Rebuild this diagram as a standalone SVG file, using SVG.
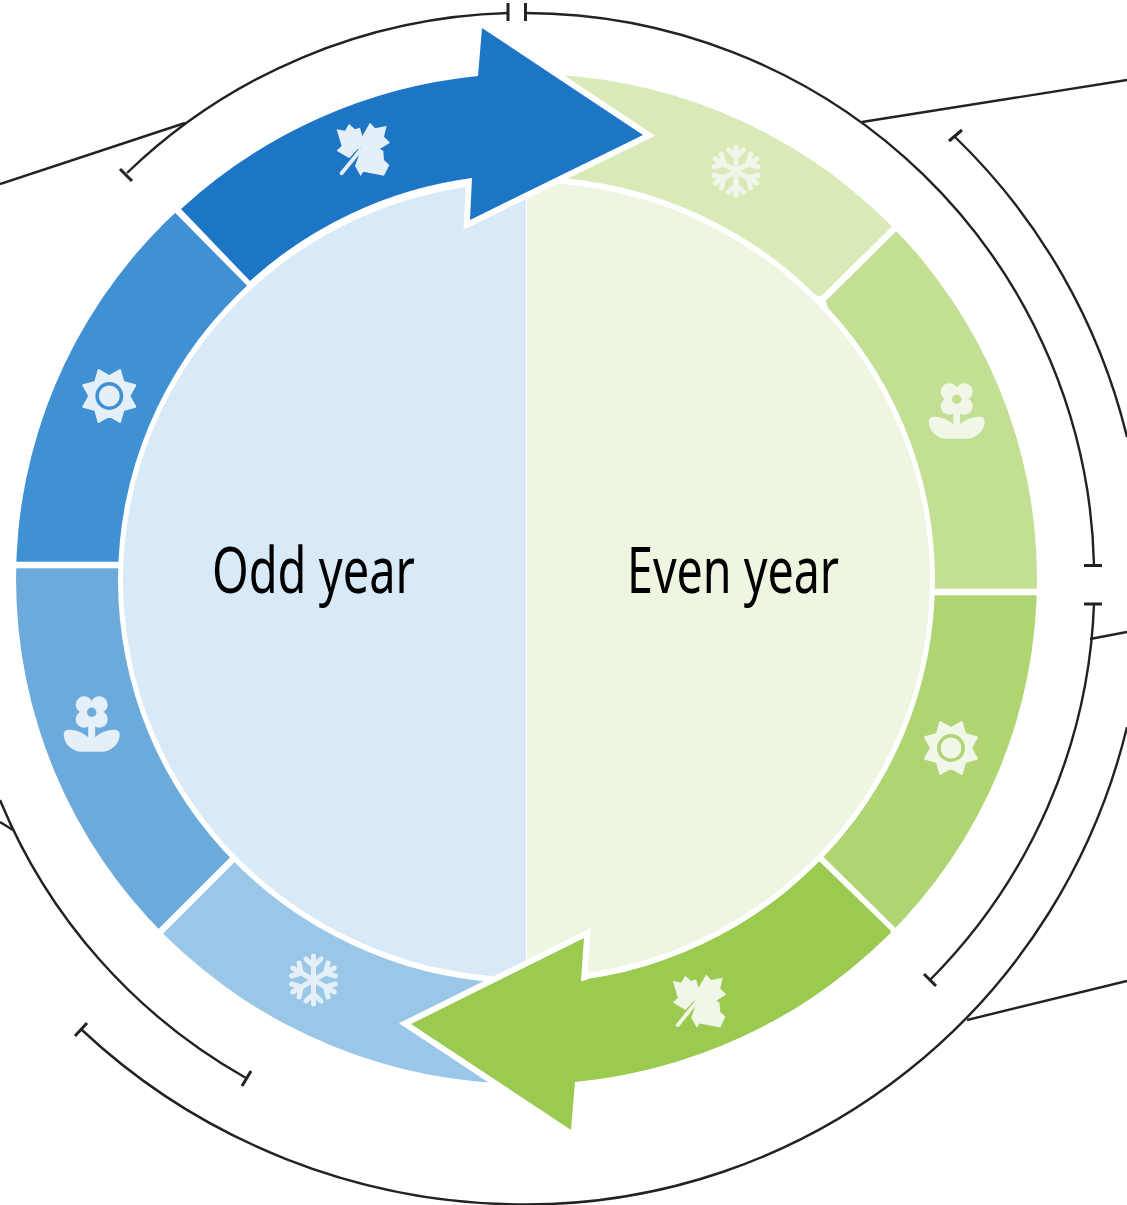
<svg xmlns="http://www.w3.org/2000/svg" xmlns:xlink="http://www.w3.org/1999/xlink" width="1127" height="1205" viewBox="0 0 1127 1205">
<style>
.seg{clip-path:url(#ringClip)}
.ln{fill:none;stroke:#222;stroke-width:2.4}
.tk{fill:none;stroke:#222;stroke-width:3}
.gap{stroke:#fff;stroke-width:6.5;fill:none}
.halo{fill:none;stroke:#fff;stroke-width:12;stroke-miterlimit:10}
.lab{font-family:"Noto Sans","Open Sans",sans-serif;font-size:63px;fill:#000}
.ib{fill:#e4eff8;color:#e4eff8}
.ig{fill:#f1f7e8;color:#f1f7e8}
</style>
<defs>
<clipPath id="ringClip"><path clip-rule="evenodd" d="M16,579a510.5,505 0 1 0 1021,0a510.5,505 0 1 0 -1021,0ZM118,580a408.500,403.500 0 1 0 817,0a408.500,403.500 0 1 0 -817,0Z"/></clipPath>
<g id="sun"><path stroke="currentColor" stroke-width="2" stroke-linejoin="round" d="M0,-20L10.700,-26L14.100,-14.100L26,-10.700L20,0L26,10.700L14.100,14.100L10.700,26L0,20L-10.700,26L-14.100,14.100L-26,10.700L-20,0L-26,-10.700L-14.100,-14.100L-10.700,-26Z"/></g>
<g id="flower"><circle cx="-7.500" cy="-7.500" r="8.500"/><circle cx="7.500" cy="-7.500" r="8.500"/><circle cx="-7.500" cy="7" r="8.500"/><circle cx="7.500" cy="7" r="8.500"/><rect x="-5" y="-5" width="10" height="10"/><rect x="-3.500" y="10" width="7" height="18"/><path d="M-3.500,25C-8,20 -18,17 -23,17.500C-26,17.500 -28,19.500 -28,22C-28,32 -19,39.500 -10,39.500L10,39.500C19,39.500 28,32 28,22C28,19.500 26,17.500 23,17.500C18,17 8,20 3.500,25Z"/></g>
<g id="flake" fill="none" stroke="currentColor" stroke-width="5" stroke-linecap="round" stroke-linejoin="round"><g id="arm"><path d="M0,0V-24M-7.500,-21L0,-14L7.500,-21"/></g><use xlink:href="#arm" href="#arm" transform="rotate(60)"/><use xlink:href="#arm" href="#arm" transform="rotate(120)"/><use xlink:href="#arm" href="#arm" transform="rotate(180)"/><use xlink:href="#arm" href="#arm" transform="rotate(240)"/><use xlink:href="#arm" href="#arm" transform="rotate(300)"/></g>
<g id="leaf"><path d="M-26.700,-20.700L-18.300,-19.300L-14.300,-26L-8.300,-20.700L-3.300,-22.300L-1,-14L6.700,-27.300L11.700,-21.700L23.300,-24L20.700,-13.300L26.700,-7.300L16.700,-1L20,.7L20.700,10L26,15L20.700,25.700L0,21.700L-2.700,26L-8.300,16L-5,7L-2.500,-1.500L-6,-.5L-14,8.300L-26.700,.7L-21.700,-4Z"/><path fill="none" stroke="currentColor" stroke-width="3.800" stroke-linecap="round" d="M-21.700,23.300L-3.300,.7"/></g>
</defs>

<g id="outer-brackets" class="connectors">
<path class="ln" d="M508,13A570,565 0 0 0 127,173"/>
<path class="ln" d="M525,13A570,565 0 0 1 1094,565"/>
<path class="ln" d="M1094,604A570,565 0 0 1 930,980"/>
<path class="ln" d="M246,1078A570,565 0 0 1 0,800"/>
<path class="ln" d="M82,1030A641,626.500 0 0 0 526,1204.500A619,626.500 0 0 0 1127,727"/>
<path class="ln" d="M955,137A615,620 0 0 1 1127,437"/>
<path class="ln" d="M185,123L0,184"/>
<path class="ln" d="M862,122L1127,80"/>
<path class="ln" d="M1090,639L1127,632"/>
<path class="ln" d="M967,1020L1127,981"/>
<path class="ln" d="M13,830L0,822"/>
<path class="tk" d="M508,3V21M525.500,3V21M120,169L132,181M949,141L962,130M1084,565.500H1102M1084,604H1102M924,974L936,986M242,1086L251,1071M75,1036L87,1023"/>
</g>

<g id="ring-even">
<path id="even-winter" class="seg" fill="#d9e9b8" d="M526,40L526,240L825,297L900,223L1000,100Z"/>
<path id="even-spring" class="seg" fill="#c3df94" d="M825,297L900,223L1100,300L1100,592L900,592Z"/>
<path id="even-summer" class="seg" fill="#afd472" d="M900,592L1100,592L1100,1000L960,997L822,860Z"/>
<path id="even-autumn" class="seg" fill="#9bca50" d="M822,860L960,997L526,1150L526,900Z"/>
<path id="odd-winter" class="seg" fill="#9ac7e8" d="M526,1150L526,900L231,861L100,992Z"/>
<path id="odd-spring" class="seg" fill="#6caadb" d="M231,861L100,992L0,900L0,565L150,565Z"/>
<path id="odd-summer" class="seg" fill="#3f91d4" d="M0,565L150,565L248,282L130,163L0,200Z"/>
</g>
<g id="dividers">
<path class="gap" d="M905,218L815,307M1045,592H925M897,934L815,853M155,937L237,855M10,565H125M172,205L255,289"/>
</g>

<g id="odd-year">
<path fill="#d8e9f7" d="M526,182.500A403,397.500 0 0 0 526,977.500Z"/>
<text class="lab" x="212" y="593" textLength="203" lengthAdjust="spacingAndGlyphs">Odd year</text>
</g>
<g id="even-year">
<path fill="#eef6e1" d="M527,182.500A403,397.500 0 0 1 527,977.500Z"/>
<text class="lab" x="627" y="593" textLength="212" lengthAdjust="spacingAndGlyphs">Even year</text>
</g>

<g id="arrow-odd">
<path class="halo" d="M472,178L470,220L643,135L482,28"/>
<path fill="#1c76c5" d="M181,209A510.500,505 0 0 1 478,76L482,28L643,135L470,220L472,178A408.500,403.500 0 0 0 250,281Z"/>
</g>
<g id="arrow-even">
<path class="halo" d="M581,981L584,938L411,1024L571,1130"/>
<path fill="#9bca50" d="M891,931A510.500,505 0 0 1 575,1082L571,1130L411,1024L584,938L581,981A408.500,403.500 0 0 0 820,862Z"/>
</g>

<g id="icons">
<g id="icon-leaf-blue" class="ib"><use xlink:href="#leaf" href="#leaf" x="363.300" y="150"/></g>
<g id="icon-sun-blue" class="ib"><use xlink:href="#sun" href="#sun" x="109.300" y="396"/><circle cx="109.300" cy="396" r="12.200" stroke="#3f91d4" stroke-width="3.500"/></g>
<g id="icon-flower-blue" class="ib"><use xlink:href="#flower" href="#flower" x="91.700" y="712.300"/><circle cx="91.700" cy="712.300" r="4.700" fill="#6caadb"/></g>
<g id="icon-flake-blue" class="ib"><use xlink:href="#flake" href="#flake" x="313.500" y="980"/></g>
<g id="icon-flake-green" class="ig"><use xlink:href="#flake" href="#flake" x="736" y="171"/></g>
<g id="icon-flower-green" class="ig"><use xlink:href="#flower" href="#flower" x="956.700" y="399.300"/><circle cx="956.700" cy="399.300" r="4.700" fill="#c3df94"/></g>
<g id="icon-sun-green" class="ig"><use xlink:href="#sun" href="#sun" x="951" y="748"/><circle cx="951" cy="748" r="12.200" stroke="#afd472" stroke-width="3.500"/></g>
<g id="icon-leaf-green" class="ig"><use xlink:href="#leaf" href="#leaf" x="699.500" y="1001.700"/></g>
</g>
</svg>
